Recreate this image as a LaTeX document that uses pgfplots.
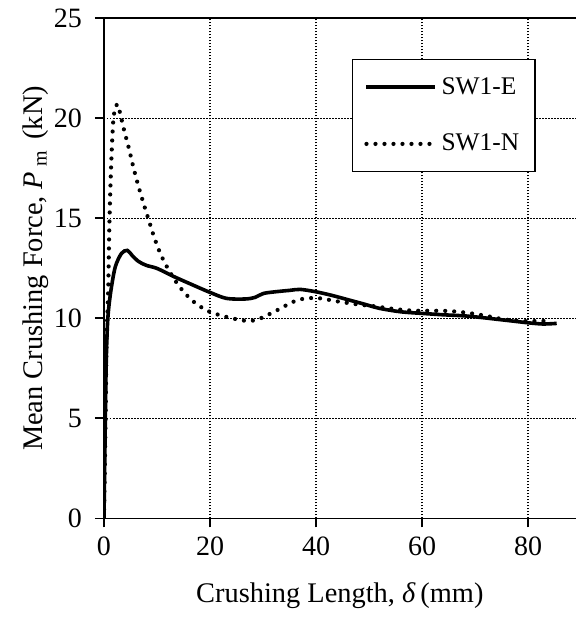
\documentclass[border=0pt]{standalone}
\usepackage{fontspec}
\setmainfont{Liberation Serif}
\usepackage{pgfplots}
\pgfplotsset{compat=1.18}
\begin{document}
\begin{tikzpicture}
\begin{axis}[
  scale only axis,
  width=235.9pt, height=250pt,
  xmin=0, xmax=89, ymin=0, ymax=25,
  xtick={0,20,40,60,80}, ytick={0,5,10,15,20,25},
  axis x line*=box, axis y line*=left,
  xtick pos=bottom, ytick pos=left,
  tick align=outside, major tick length=4.5pt,
  every tick/.style={black, line width=0.9pt},
  axis line style={black, line width=0.9pt},
  grid=major,
  major grid style={black, line width=0.65pt, dash pattern=on 0.75pt off 0.75pt},
  /pgf/number format/assume math mode=true,
  tick label style={font=\fontsize{14}{16}\selectfont},
  yticklabel style={xshift=-3pt},
  xticklabel style={yshift=-1pt},
  label style={font=\fontsize{14.2}{16}\selectfont},
  xlabel={Crushing Length, \textit{δ}\,(mm)},
  ylabel={Mean Crushing Force, \textit{P}\,\raisebox{-0.35ex}{\fontsize{10}{11}\selectfont m}\, (kN)},
  xlabel style={yshift=-7pt},
  ylabel style={yshift=-4pt},
  legend cell align=left,
  legend style={at={(0.525,0.919)}, anchor=north west, draw=black, line width=0.7pt,
    font=\fontsize{12.7}{15}\selectfont, nodes={inner sep=2pt},
    inner xsep=6pt, inner ysep=6.8pt, row sep=14.5pt},
  legend image code/.code={\draw[#1] (0pt,0pt) -- (34.5pt,0pt);},
]
\addplot[black, line width=1.8pt, smooth, tension=0.5] coordinates {
(0,0) (0.2,4) (0.42,7.8) (0.7,9.9) (1.2,11.2) (2.1,12.55) (3.3,13.25) (4.4,13.4) (5.3,13.15)
(6.5,12.85) (8.0,12.65) (10.0,12.5) (13.1,12.1) (16.5,11.7) (20.0,11.3) (23.1,11.0)
(26.6,10.97) (28.5,11.05) (30.1,11.25) (33,11.35) (35,11.4) (37,11.45) (40,11.33)
(43,11.15) (45.8,10.95) (49,10.72) (52,10.5) (56,10.33) (60,10.25) (64,10.18)
(67.8,10.13) (71,10.05) (74,9.96) (77,9.87) (80,9.78) (82.8,9.72) (85.4,9.75)
};
\addlegendentry{SW1-E}
\addplot[black, line width=2.1pt, line cap=round, dash pattern=on 0pt off 4.5pt, smooth, tension=0.5] coordinates {
(0,0) (0.3,5) (0.5,9) (0.8,11.5) (1.0,14.5) (1.3,17.3) (1.7,19.7) (2.1,20.5) (2.6,20.7)
(3.0,20.3) (3.8,19.4) (4.7,18.5) (5.5,17.6) (6.4,16.7) (7.4,15.8) (8.4,14.95) (9.45,14.07)
(10.7,13.2) (12.25,12.4) (14.2,11.6) (16.6,10.9) (19.5,10.38) (22.7,10.1) (26.1,9.9)
(27.9,9.88) (29.5,10.0) (31.1,10.2) (32.6,10.4) (34.2,10.63) (35.7,10.83) (37.4,10.97)
(39.2,11.02) (40.9,11.0) (42.6,10.92) (44.3,10.84) (47.8,10.7) (51.2,10.6) (54.7,10.47)
(58.2,10.39) (61.6,10.38) (65,10.37) (68.5,10.28) (72,10.13) (75.5,9.95) (78.9,9.87)
(82.3,9.87) (84,9.88)
};
\addlegendentry{SW1-N}
\end{axis}
\path (-52pt,-50.3pt) rectangle (236pt,259.2pt);
\end{tikzpicture}
\end{document}
